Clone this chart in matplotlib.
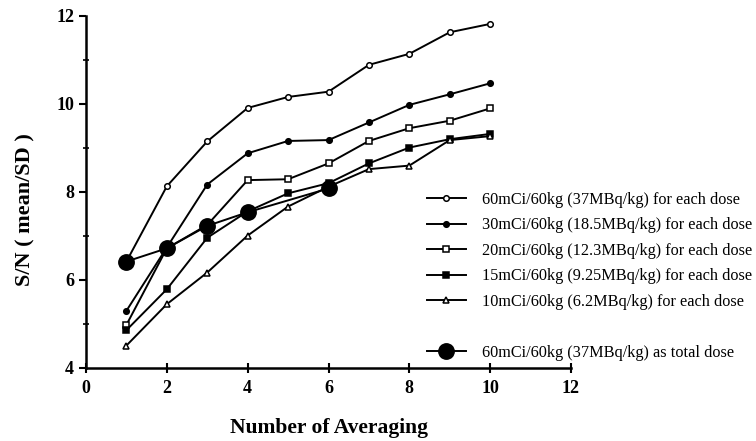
import matplotlib.pyplot as plt
from matplotlib.lines import Line2D
from matplotlib.ticker import MultipleLocator

plt.rcParams['font.family'] = ['Liberation Serif', 'DejaVu Serif']

n_avg = [1, 2, 3, 4, 5, 6, 7, 8, 9, 10]
dose60 = [6.42, 8.13, 9.15, 9.91, 10.16, 10.28, 10.89, 11.14, 11.63, 11.82]
dose30 = [5.30, 6.74, 8.17, 8.88, 9.16, 9.18, 9.58, 9.98, 10.22, 10.47]
dose20 = [4.98, 6.72, 7.25, 8.27, 8.29, 8.65, 9.16, 9.45, 9.62, 9.90]
dose15 = [4.86, 5.79, 6.96, 7.56, 7.97, 8.20, 8.65, 9.01, 9.20, 9.32]
dose10 = [4.51, 5.45, 6.17, 7.01, 7.67, 8.12, 8.52, 8.60, 9.18, 9.27]

total_x = [1, 2, 3, 4, 6]
total60 = [6.42, 6.72, 7.23, 7.54, 8.08]

labels = [
    '60mCi/60kg (37MBq/kg) for each dose',
    '30mCi/60kg (18.5MBq/kg) for each dose',
    '20mCi/60kg (12.3MBq/kg) for each dose',
    '15mCi/60kg (9.25MBq/kg) for each dose',
    '10mCi/60kg (6.2MBq/kg) for each dose',
    '60mCi/60kg (37MBq/kg) as total dose',
]

fig = plt.figure(figsize=(7.56, 4.41), dpi=100)
ax = fig.add_axes([86 / 756, 1 - 368 / 441, (571 - 86) / 756, (368 - 16) / 441])

lw = 1.4
ms = 4
common = dict(color='black', lw=lw, markeredgewidth=1.1, markeredgecolor='black')
h1, = ax.plot(n_avg, dose60, marker='o', ms=ms, mfc='white', **common)
h2, = ax.plot(n_avg, dose30, marker='o', ms=ms, mfc='black', **common)
h3, = ax.plot(n_avg, dose20, marker='s', ms=ms, mfc='white', **common)
h4, = ax.plot(n_avg, dose15, marker='s', ms=ms, mfc='black', **common)
h5, = ax.plot(n_avg, dose10, marker='^', ms=ms + 1, mfc='white', **common)
h6, = ax.plot(total_x, total60, marker='o', ms=11, mfc='black', zorder=5, **common)

ax.set_xlim(0, 12)
ax.set_ylim(4, 12)
ax.xaxis.set_major_locator(MultipleLocator(2))
ax.yaxis.set_major_locator(MultipleLocator(2))
ax.yaxis.set_minor_locator(MultipleLocator(1))
for s in ['top', 'right']:
    ax.spines[s].set_visible(False)
for s in ['left', 'bottom']:
    ax.spines[s].set_linewidth(1.8)
ax.tick_params(axis='x', direction='inout', length=7, width=1.5, labelsize=13, pad=5)
ax.tick_params(axis='y', direction='out', length=5, width=1.5, labelsize=13)
ax.tick_params(axis='y', which='minor', direction='inout', length=4, width=1.2)
for t in ax.get_xticklabels() + ax.get_yticklabels():
    t.set_fontweight('bold')

ax.set_xlabel('Number of Averaging', fontsize=15.5, fontweight='bold', labelpad=15)
ax.set_ylabel('S/N ( mean/SD )', fontsize=16, fontweight='bold')
ax.yaxis.set_label_coords(-0.105, 0.45)

blank = Line2D([], [], lw=0)
handles = [h1, h2, h3, h4, h5, blank, h6]
leg_labels = labels[:5] + [''] + labels[5:]
ax.legend(handles, leg_labels, loc='upper left', frameon=False,
          bbox_to_anchor=(427 / 756, 1 - 192 / 441), bbox_transform=fig.transFigure,
          fontsize=11.7, borderpad=0, borderaxespad=0, handlelength=2.4,
          handletextpad=1.0, labelspacing=0.58)

fig.savefig('out.png', dpi=100)
